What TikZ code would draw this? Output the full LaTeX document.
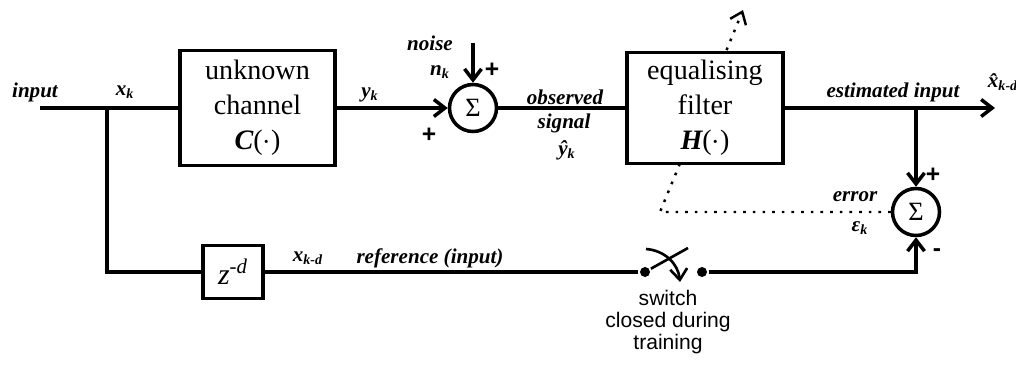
\documentclass[tikz,border=0pt]{standalone}
\usepackage{fontspec}
\setmainfont{Liberation Serif}
\newfontfamily\swfont{Liberation Sans}
\usetikzlibrary{arrows.meta,backgrounds}
\newcommand{\sig}[2]{\textit{#1}\textsubscript{\textit{#2}}}

\begin{document}
\begin{tikzpicture}[x=0.02cm,y=-0.02cm,>={Straight Barb[length=2.2mm,width=3.4mm]},line width=2pt,
  block/.style={draw,fill=white,align=center,inner sep=0pt,font=\fontsize{16}{20}\selectfont},
  sumnode/.style={draw,circle,fill=white,minimum size=0.94cm,inner sep=0pt,font=\fontsize{15}{15}\selectfont},
  contact/.style={circle,fill,inner sep=0pt,minimum size=0.2cm},
  lbl/.style={font=\fontsize{12}{13}\selectfont\bfseries\itshape,inner sep=1pt},
  sgn/.style={font=\fontsize{14}{14}\selectfont\swfont\bfseries,inner sep=0pt},
  errline/.style={line width=1.4pt,dash pattern=on 1.5pt off 4pt}]
\useasboundingbox (0,0) rectangle (1016,365);

\node[block,minimum width=3.1cm,minimum height=2.3cm] (chan) at (257.5,108) {unknown\\channel\\{\bfseries\itshape C}($\cdot$)};
\node[block,minimum width=3.12cm,minimum height=2.22cm] (filt) at (705,108) {equalising\\filter\\{\bfseries\itshape H}($\cdot$)};
\node[block,minimum width=1.2cm,minimum height=1.06cm] (delay) at (233,272) {\fontsize{17}{17}\selectfont\textit{z}\textsuperscript{\textit{-d}}};
\node[sumnode] (sum1) at (473,108) {Σ};
\node[sumnode] (sum2) at (916,212) {Σ};
\node[contact] (sw1) at (645,272) {};
\node[contact] (sw2) at (702,272) {};

\coordinate (in) at (40,108);
\coordinate (split) at (107,108);
\coordinate (nz) at (473,43);
\coordinate (tap) at (916,108);
\coordinate (out) at (995,108);
\coordinate (bend) at (660,212);
\coordinate (adapt) at (743,10);
\coordinate (lever) at (688,248);
\coordinate (arcs) at (646,249);
\coordinate (arce) at (680,282);

\draw (in) -- (chan);
\draw (split) |- (delay);
\draw[->] (chan) -- (sum1);
\draw[->] (nz) -- (sum1);
\draw (sum1) -- (filt);
\draw[->] (filt) -- (out);
\draw[->] (tap) -- (sum2);
\draw (delay) -- (sw1);
\draw[->] (sw2) -| (sum2);
\draw[line width=1.5pt] (sw1) -- (lever);
\draw[line width=1.5pt,->] (arcs) to[bend left=40] (arce);
\begin{pgfonlayer}{background}
\draw[errline,->] (sum2) -- (bend) -- (adapt);
\end{pgfonlayer}

\node[lbl] (lin) at (35,92) {input};
\node[lbl] (lxk) at (125,92) {\sig{x}{k}};
\node[lbl] (lyk) at (370,95) {\sig{y}{k}};
\node[lbl] (lnoise) at (430,43) {noise};
\node[lbl] (lnk) at (440,72) {\sig{n}{k}};
\node[sgn] (ptop) at (492,70) {+};
\node[sgn] (pleft) at (429,135) {+};
\node[lbl] (lobs) at (565,97) {observed};
\node[lbl] (lsig) at (564,123) {signal};
\node[lbl] (lyhat) at (567,150) {\sig{\^{y}}{k}};
\node[lbl] (lest) at (893,92) {estimated input};
\node[lbl] (lxhat) at (1003,82) {\sig{\^{x}}{k-d}};
\node[lbl] (lerr) at (855,197) {error};
\node[lbl] (leps) at (860,228) {\textbf{ε}\textsubscript{\textit{k}}};
\node[sgn] (pright) at (933,175) {+};
\node[sgn] (mright) at (937,253) {-};
\node[lbl] (lxkd) at (308,258) {\sig{x}{k-d}};
\node[lbl] (lref) at (430,258) {reference (input)};
\node[align=center,inner sep=0pt,font=\fontsize{12}{12.5}\selectfont\swfont] (lsw) at (668,322) {switch\\closed during\\training};
\end{tikzpicture}
\end{document}
